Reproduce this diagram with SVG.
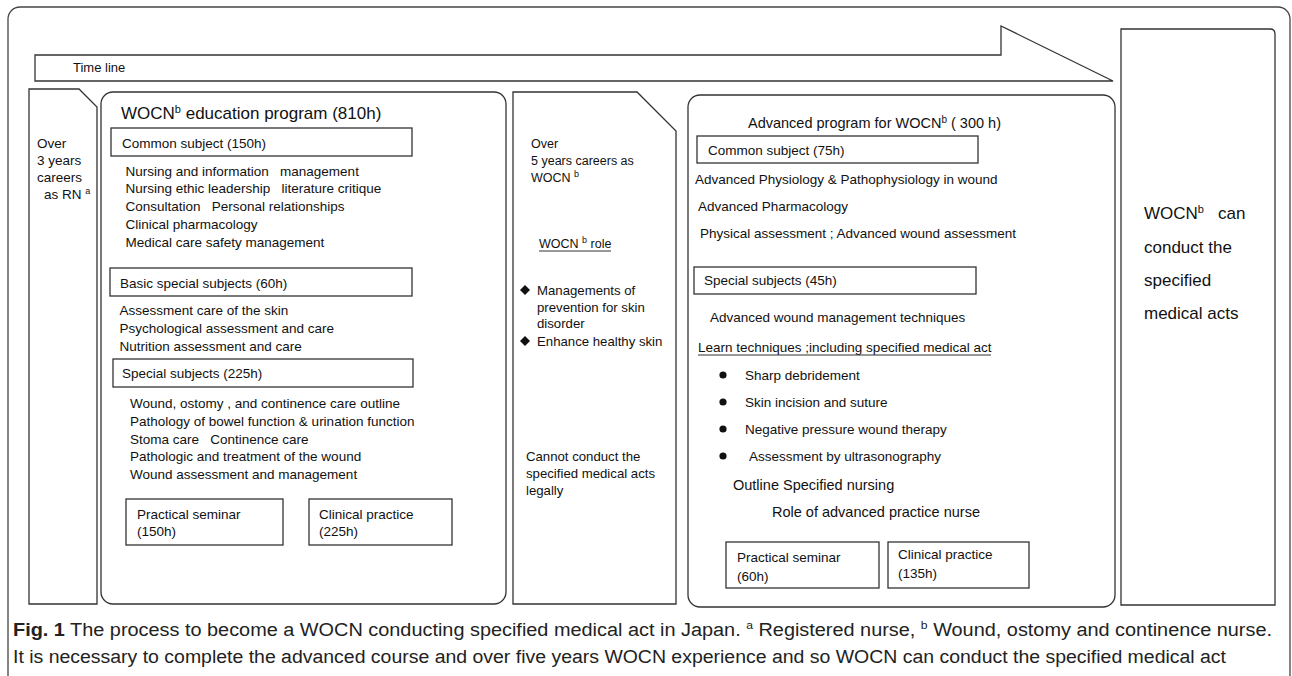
<svg xmlns="http://www.w3.org/2000/svg" width="1292" height="676" viewBox="0 0 1292 676">
<style>
.box{fill:#fff;stroke:#333;stroke-width:1.3}
.t{font-family:"Liberation Sans",Arial,sans-serif;font-size:13.5px;fill:#111}
.s{font-size:12.5px}
.m{font-size:13.2px}
.sup{font-size:9px}
.cap{font-family:"Liberation Sans",Arial,sans-serif;font-size:18px;fill:#222}
</style>
<rect width="1292" height="676" fill="#fff"/>
<rect x="8" y="7" width="1282" height="720" rx="12" fill="none" stroke="#444" stroke-width="1.3"/>

<g id="timeline">
<polygon class="box" points="35,55 1001,55 1001,26 1113,81 35,81"/>
<text class="t" x="73" y="72" style="font-size:13px">Time line</text>
</g>

<g id="rn-career">
<polygon class="box" points="29,89 79,89 97,107 97,604 29,604"/>
<text class="t" x="37" y="148">Over</text>
<text class="t" x="37" y="165">3 years</text>
<text class="t" x="37" y="182">careers</text>
<text class="t" x="44" y="199">as RN <tspan class="sup" dy="-5">a</tspan></text>
</g>

<g id="education-program">
<rect class="box" x="101" y="92" width="405" height="512" rx="12"/>
<text class="t" x="121" y="119" style="font-size:17px">WOCN<tspan class="sup" dy="-6" style="font-size:11px">b</tspan><tspan dy="6"> education program (810h)</tspan></text>
<rect class="box" x="111" y="128" width="301" height="28"/>
<text class="t" x="122" y="148">Common subject (150h)</text>
<text class="t" x="125.5" y="175.5" xml:space="preserve">Nursing and information   management</text>
<text class="t" x="125.5" y="193" xml:space="preserve">Nursing ethic leadership   literature critique</text>
<text class="t" x="125.5" y="211" xml:space="preserve">Consultation   Personal relationships</text>
<text class="t" x="125.5" y="229">Clinical pharmacology</text>
<text class="t" x="125.5" y="246.5">Medical care safety management</text>
<rect class="box" x="110" y="268" width="302" height="28"/>
<text class="t" x="120" y="288">Basic special subjects (60h)</text>
<text class="t" x="119.5" y="315">Assessment care of the skin</text>
<text class="t" x="119.5" y="333">Psychological assessment and care</text>
<text class="t" x="119.5" y="351">Nutrition assessment and care</text>
<rect class="box" x="113" y="359" width="300" height="28"/>
<text class="t" x="122" y="378">Special subjects (225h)</text>
<text class="t" x="130" y="408">Wound, ostomy , and continence care outline</text>
<text class="t" x="130" y="426">Pathology of bowel function &amp; urination function</text>
<text class="t" x="130" y="444" xml:space="preserve">Stoma care   Continence care</text>
<text class="t" x="130" y="461">Pathologic and treatment of the wound</text>
<text class="t" x="130" y="479">Wound assessment and management</text>
<rect class="box" x="126" y="499" width="157" height="46"/>
<text class="t" x="137" y="519">Practical seminar</text>
<text class="t" x="137" y="536">(150h)</text>
<rect class="box" x="309" y="499" width="143" height="46"/>
<text class="t" x="319" y="519">Clinical practice</text>
<text class="t" x="319" y="536">(225h)</text>
</g>

<g id="wocn-career">
<polygon class="box" points="513,92 637,92 676,131 676,604 513,604"/>
<text class="t s" x="531" y="148">Over</text>
<text class="t s" x="531" y="165">5 years careers as</text>
<text class="t s" x="531" y="182">WOCN <tspan class="sup" dy="-5">b</tspan></text>
<text class="t s" x="539" y="248">WOCN <tspan class="sup" dy="-5">b</tspan><tspan dy="5"> role</tspan></text>
<line x1="539" y1="251" x2="611" y2="251" stroke="#333" stroke-width="1"/>
<polygon points="525,285 530,290 525,295 520,290" fill="#111"/>
<text class="t m" x="537" y="295">Managements of</text>
<text class="t m" x="537" y="312">prevention for skin</text>
<text class="t m" x="537" y="328">disorder</text>
<polygon points="525,336 530,341 525,346 520,341" fill="#111"/>
<text class="t m" x="537" y="346">Enhance healthy skin</text>
<text class="t m" x="526" y="461">Cannot conduct the</text>
<text class="t m" x="526" y="478">specified medical acts</text>
<text class="t m" x="526" y="495">legally</text>
</g>

<g id="advanced-program">
<rect class="box" x="688" y="95" width="427" height="512" rx="12"/>
<text class="t" x="748" y="128" style="font-size:14.5px">Advanced program for WOCN<tspan class="sup" dy="-5" style="font-size:10px">b</tspan><tspan dy="5"> ( 300 h)</tspan></text>
<rect class="box" x="697" y="136" width="281" height="27"/>
<text class="t" x="708" y="155">Common subject (75h)</text>
<text class="t" x="695" y="184">Advanced Physiology &amp; Pathophysiology in wound</text>
<text class="t" x="698" y="211">Advanced Pharmacology</text>
<text class="t" x="700" y="238">Physical assessment ; Advanced wound assessment</text>
<rect class="box" x="694" y="267" width="282" height="27"/>
<text class="t" x="704" y="285">Special subjects (45h)</text>
<text class="t" x="710" y="322">Advanced wound management techniques</text>
<text class="t" x="698" y="352">Learn techniques ;including specified medical act</text>
<line x1="698" y1="355" x2="991" y2="355" stroke="#333" stroke-width="1"/>
<circle cx="723" cy="375" r="3.6" fill="#111"/>
<circle cx="723" cy="402" r="3.6" fill="#111"/>
<circle cx="723" cy="429" r="3.6" fill="#111"/>
<circle cx="723" cy="456" r="3.6" fill="#111"/>
<text class="t" x="745" y="380">Sharp debridement</text>
<text class="t" x="745" y="407">Skin incision and suture</text>
<text class="t" x="745" y="434">Negative pressure wound therapy</text>
<text class="t" x="749" y="461">Assessment by ultrasonography</text>
<text class="t" x="733" y="490" style="font-size:14.5px">Outline Specified nursing</text>
<text class="t" x="772" y="517" style="font-size:14.5px">Role of advanced practice nurse</text>
<rect class="box" x="726" y="542" width="153" height="46"/>
<text class="t" x="737" y="562">Practical seminar</text>
<text class="t" x="737" y="581">(60h)</text>
<rect class="box" x="888" y="542" width="141" height="46"/>
<text class="t" x="898" y="559">Clinical practice</text>
<text class="t" x="898" y="578">(135h)</text>
</g>

<g id="outcome">
<path class="box" d="M1121,29 H1270 Q1275,29 1275,34 V605 H1121 Z"/>
<text class="t" x="1144" y="219" style="font-size:17px" xml:space="preserve">WOCN<tspan class="sup" dy="-6" style="font-size:11px">b</tspan><tspan dy="6">   can</tspan></text>
<text class="t" x="1144" y="253" style="font-size:17px">conduct the</text>
<text class="t" x="1144" y="286" style="font-size:17px">specified</text>
<text class="t" x="1144" y="319" style="font-size:17px">medical acts</text>
</g>

<g id="caption">
<text class="cap" x="13" y="636" textLength="1259" lengthAdjust="spacingAndGlyphs"><tspan font-weight="bold">Fig. 1</tspan> The process to become a WOCN conducting specified medical act in Japan. <tspan style="font-size:11px" dy="-7">a</tspan><tspan dy="7"> Registered nurse, </tspan><tspan style="font-size:11px" dy="-7">b</tspan><tspan dy="7"> Wound, ostomy and continence nurse.</tspan></text>
<text class="cap" x="13" y="663" textLength="1213" lengthAdjust="spacingAndGlyphs">It is necessary to complete the advanced course and over five years WOCN experience and so WOCN can conduct the specified medical act</text>
</g>
</svg>
